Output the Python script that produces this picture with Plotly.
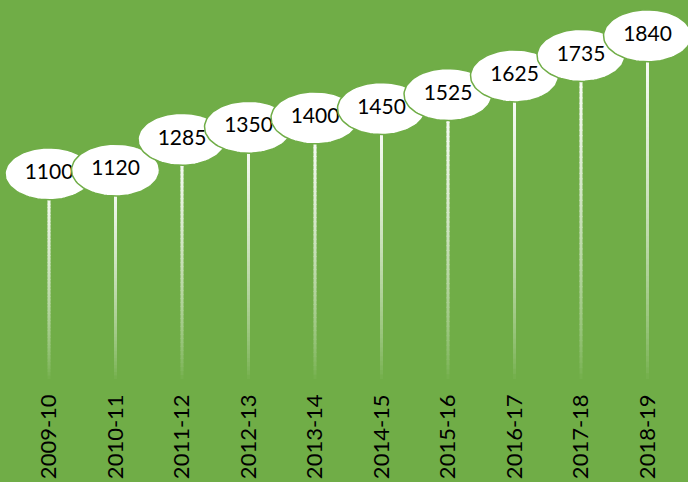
import plotly.graph_objects as go
import numpy as np

years = ["2009-10", "2010-11", "2011-12", "2012-13", "2013-14",
         "2014-15", "2015-16", "2016-17", "2017-18", "2018-19"]
values = [1100, 1120, 1285, 1350, 1400, 1450, 1525, 1625, 1735, 1840]

BG = "#70AD47"
BG_RGB = (112, 173, 71)
W, H = 688, 482
ML, MR, MT, MB = 0, 0, 0, 103
STEP = 66.5
XMIN = -49 / STEP
XMAX = XMIN + (W - ML - MR) / STEP
YMIN, YMAX = 0, 2032

px_per_x = STEP
px_per_y = (H - MT - MB) / (YMAX - YMIN)
RX = 44 / px_per_x
RY = 26 / px_per_y

fig = go.Figure()

# gradient stems: white at top blending into the background at the baseline
nseg = 60
for k in range(nseg):
    f0, f1 = k / nseg, (k + 1) / nseg
    a = min(1.0, ((f0 + f1) / 2) ** 0.7)
    col = tuple(int(round(c + (255 - c) * a)) for c in BG_RGB)
    xs, ys = [], []
    for i, v in enumerate(values):
        xs += [i, i, None]
        ys += [v * f0, v * f1 + v * 0.004, None]
    fig.add_trace(go.Scatter(
        x=xs, y=ys, mode="lines",
        line=dict(color=f"rgb{col}", width=3),
        hoverinfo="skip", showlegend=False))

t = np.linspace(0, 2 * np.pi, 90)
for i, v in enumerate(values):
    fig.add_trace(go.Scatter(
        x=i + RX * np.cos(t), y=v + RY * np.sin(t), mode="lines",
        fill="toself", fillcolor="white",
        line=dict(color=BG, width=1.5),
        hoverinfo="skip", showlegend=False))
    fig.add_trace(go.Scatter(
        x=[i], y=[v], mode="text", text=[str(v)],
        textposition="middle center",
        textfont=dict(family="Lato", size=21, color="black"),
        hoverinfo="skip", showlegend=False, cliponaxis=False))

fig.update_layout(
    width=W, height=H,
    margin=dict(l=ML, r=MR, t=MT, b=MB),
    paper_bgcolor=BG, plot_bgcolor=BG,
    showlegend=False,
    xaxis=dict(range=[XMIN, XMAX], tickmode="array",
               tickvals=list(range(len(years))), ticktext=years,
               tickangle=-90, showgrid=False, zeroline=False,
               showline=False, ticks="", ticklabelstandoff=10,
               tickfont=dict(family="Lato", size=22, color="black")),
    yaxis=dict(range=[YMIN, YMAX], visible=False, showgrid=False,
               zeroline=False),
)

fig.write_html("out.html", config={"displayModeBar": False},
               post_script="document.body.style.margin='0';document.body.style.overflow='hidden';")
